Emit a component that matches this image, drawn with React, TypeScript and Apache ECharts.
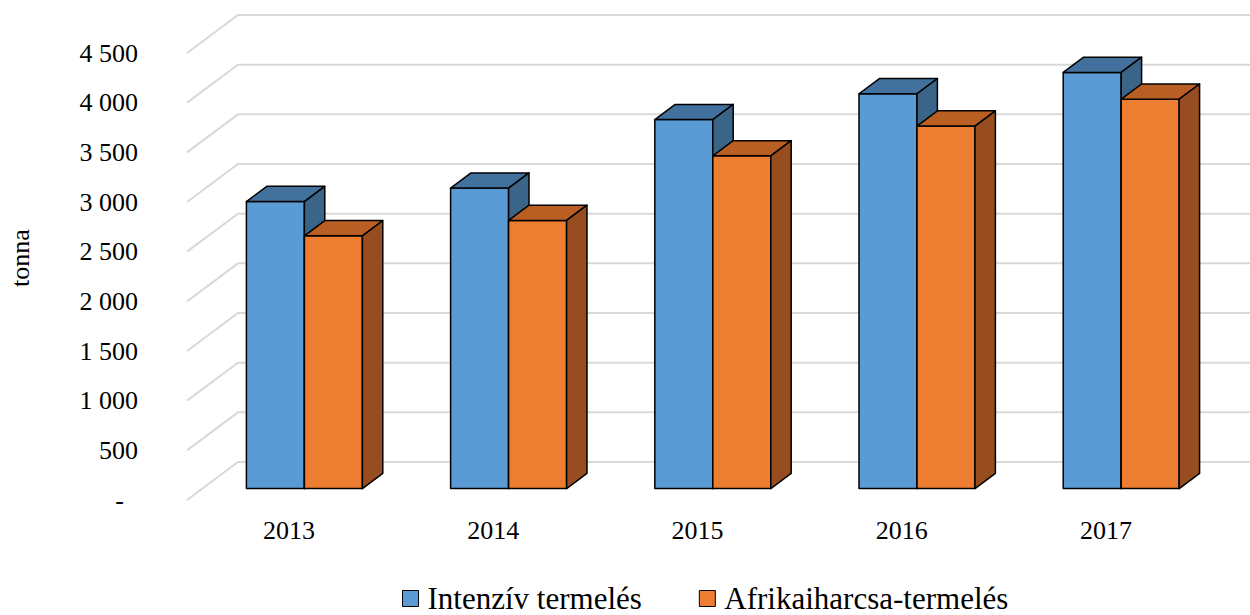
import React, { useEffect, useRef } from "react";
import * as echarts from "echarts";

const categories = ["2013", "2014", "2015", "2016", "2017"];
const intenziv = [2890, 3025, 3715, 3975, 4190];
const afrikai = [2545, 2700, 3350, 3650, 3920];
const yTicks = [0, 500, 1000, 1500, 2000, 2500, 3000, 3500, 4000, 4500];
const seriesNames = ["Intenzív termelés", "Afrikaiharcsa-termelés"];

const FONT = "'Liberation Serif', 'Times New Roman', serif";
const DEPTH_X = 51;
const DEPTH_Y = -38;
const F1 = 0.3;
const F2 = 0.7;

const palette = [
  { front: "#5B9BD5", top: "#41719C", side: "#3A6589" },
  { front: "#ED7D31", top: "#BA5F24", side: "#974D1F" },
];

function fmt(v: number): string {
  if (v === 0) return "{d|-}";
  if (v >= 1000) {
    const th = Math.floor(v / 1000);
    const rest = String(v % 1000).padStart(3, "0");
    return th + " " + rest;
  }
  return String(v);
}

function barRenderer(slot: number) {
  return (params: any, api: any) => {
    const idx = api.value(0);
    const val = api.value(1);
    const base = api.coord([idx, 0]);
    const top = api.coord([idx, val]);
    const bandW = api.size([1, 0])[0];
    const barW = bandW * 0.284;
    const x0 =
      base[0] - bandW / 2 + DEPTH_X * F1 + (bandW - 2 * barW) / 2 + slot * barW;
    const yB = base[1] + DEPTH_Y * F1;
    const yT = top[1] + DEPTH_Y * F1;
    const dx = DEPTH_X * (F2 - F1);
    const dy = DEPTH_Y * (F2 - F1);
    const c = palette[slot];
    const stroke = { stroke: "#000", lineWidth: 1.5, lineJoin: "round" };
    return {
      type: "group",
      children: [
        {
          type: "rect",
          shape: { x: x0, y: yT, width: barW, height: yB - yT },
          style: { fill: c.front, ...stroke },
        },
        {
          type: "polygon",
          shape: {
            points: [
              [x0, yT],
              [x0 + barW, yT],
              [x0 + barW + dx, yT + dy],
              [x0 + dx, yT + dy],
            ],
          },
          style: { fill: c.top, ...stroke },
        },
        {
          type: "polygon",
          shape: {
            points: [
              [x0 + barW, yT],
              [x0 + barW + dx, yT + dy],
              [x0 + barW + dx, yB + dy],
              [x0 + barW, yB],
            ],
          },
          style: { fill: c.side, ...stroke },
        },
      ],
    };
  };
}

export default function App() {
  const ref = useRef<HTMLDivElement>(null);
  useEffect(() => {
    if (!ref.current) return;
    const chart = echarts.init(ref.current, null, { renderer: "svg" });
    chart.setOption({
      animation: false,
      backgroundColor: "#fff",
      textStyle: { fontFamily: FONT },
      grid: { left: 187, right: 42, top: 53, bottom: 115 },
      xAxis: {
        type: "category",
        data: categories,
        boundaryGap: true,
        axisLine: { show: false },
        axisTick: { show: false },
        splitLine: { show: false },
        axisLabel: { color: "#000", fontSize: 26, fontFamily: FONT, margin: 17 },
      },
      yAxis: {
        type: "value",
        min: 0,
        max: 4500,
        interval: 500,
        axisLine: { show: false },
        axisTick: { show: false },
        splitLine: { show: false },
        axisLabel: {
          color: "#000",
          fontSize: 26,
          fontFamily: FONT,
          margin: 49,
          formatter: fmt,
          rich: {
            d: { fontSize: 26, fontFamily: FONT, color: "#000", padding: [0, 14, 0, 0] },
          },
        },
      },
      legend: {
        data: seriesNames,
        left: 402,
        top: 583,
        padding: 0,
        itemWidth: 16,
        itemHeight: 16,
        itemGap: 57,
        icon: "rect",
        itemStyle: { borderColor: "#000", borderWidth: 1 },
        textStyle: {
          color: "#000",
          fontSize: 31,
          lineHeight: 31,
          fontFamily: FONT,
          padding: [0, 0, 0, 4],
        },
      },
      graphic: [
        {
          type: "text",
          x: 20,
          y: 258,
          rotation: Math.PI / 2,
          style: {
            text: "tonna",
            fill: "#000",
            font: "26px " + FONT,
            align: "center",
            verticalAlign: "middle",
          },
        },
      ],
      series: [
        {
          name: "grid3d",
          type: "custom",
          silent: true,
          z: 1,
          data: yTicks.map((v) => [0, v]),
          encode: { x: 0, y: 1 },
          renderItem: (params: any, api: any) => {
            const cs = params.coordSys;
            const y = api.coord([0, api.value(1)])[1];
            return {
              type: "polyline",
              shape: {
                points: [
                  [cs.x, y],
                  [cs.x + DEPTH_X, y + DEPTH_Y],
                  [cs.x + cs.width + DEPTH_X, y + DEPTH_Y],
                ],
              },
              style: { stroke: "#D9D9D9", lineWidth: 2, fill: "none" },
            };
          },
        },
        {
          name: seriesNames[0],
          type: "custom",
          z: 2,
          itemStyle: { color: palette[0].front },
          data: intenziv.map((v, i) => [i, v]),
          encode: { x: 0, y: 1 },
          renderItem: barRenderer(0),
        },
        {
          name: seriesNames[1],
          type: "custom",
          z: 2,
          itemStyle: { color: palette[1].front },
          data: afrikai.map((v, i) => [i, v]),
          encode: { x: 0, y: 1 },
          renderItem: barRenderer(1),
        },
      ],
    });
    return () => chart.dispose();
  }, []);
  return (
    <div
      ref={ref}
      style={{ position: "fixed", left: 0, top: 0, width: 1250, height: 615 }}
    />
  );
}
